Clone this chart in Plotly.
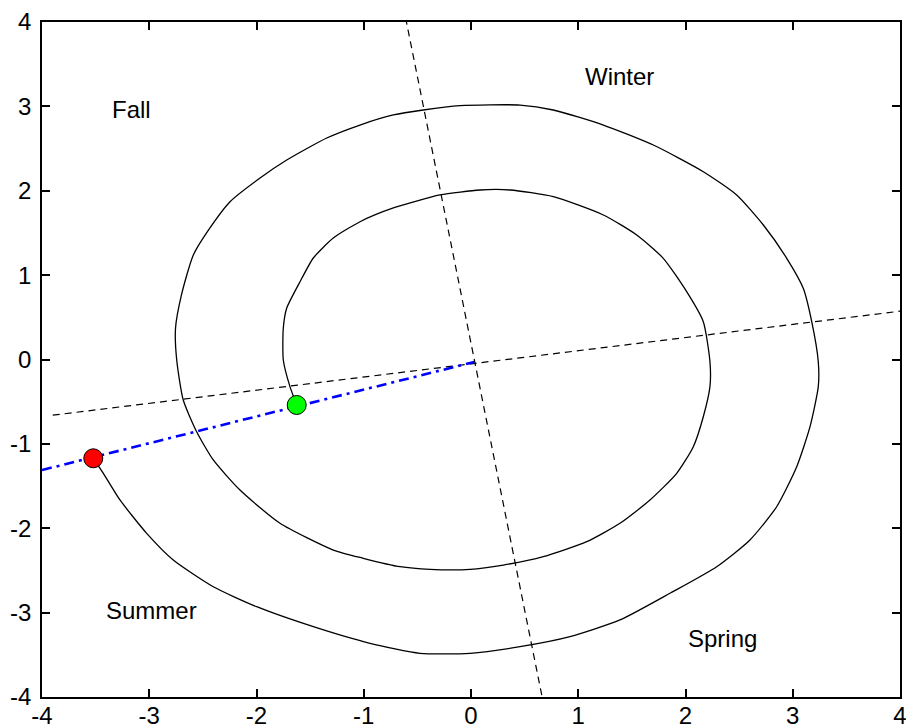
import plotly.graph_objects as go

# Spiral path, from green point to red point
spiral_x = [-1.625, -1.688, -1.750, -1.750, -1.718, -1.594, -1.470, -1.284, -1.035, -0.724,
            -0.289, 0.084, 0.364, 0.767, 1.234, 1.545, 1.793, 2.011, 2.166, 2.228,
            2.228, 2.166, 2.073, 1.918, 1.669, 1.389, 1.079, 0.674, 0.301, -0.009,
            -0.382, -0.662, -1.004, -1.284, -1.781, -2.154, -2.403, -2.558, -2.683, -2.744,
            -2.755, -2.700, -2.589, -2.434, -2.247, -1.967, -1.718, -1.345, -1.035, -0.724,
            -0.445, -0.103, 0.457, 0.767, 1.234, 1.700, 2.166, 2.477, 2.726, 2.944,
            3.098, 3.177, 3.238, 3.238, 3.161, 3.037, 2.850, 2.601, 2.291, 1.855,
            1.389, 0.923, 0.457, -0.009, -0.476, -0.942, -1.470, -1.998, -2.403, -2.776,
            -3.024, -3.273, -3.428, -3.522]
spiral_y = [-0.539, -0.322, -0.006, 0.373, 0.610, 0.922, 1.203, 1.440, 1.633, 1.796,
            1.950, 2.009, 2.009, 1.930, 1.713, 1.476, 1.199, 0.804, 0.448, -0.026,
            -0.322, -0.678, -1.033, -1.349, -1.665, -1.941, -2.159, -2.337, -2.436, -2.487,
            -2.487, -2.456, -2.356, -2.258, -1.941, -1.547, -1.191, -0.856, -0.480, -0.006,
            0.373, 0.764, 1.239, 1.559, 1.870, 2.151, 2.364, 2.625, 2.779, 2.898,
            2.957, 3.008, 3.016, 2.957, 2.779, 2.542, 2.226, 1.950, 1.594, 1.199,
            0.844, 0.448, -0.026, -0.322, -0.796, -1.271, -1.745, -2.139, -2.456, -2.771,
            -3.087, -3.285, -3.404, -3.482, -3.482, -3.364, -3.167, -2.930, -2.693, -2.376,
            -2.060, -1.665, -1.349, -1.171]

# Dashed reference lines
line_a_x = [-3.90, 4.05]
line_a_y = [-0.66, 0.58]
line_b_x = [-0.61, 0.66]
line_b_y = [4.05, -3.98]

# Blue dash-dot line
blue_x = [-4.0, 0.03]
blue_y = [-1.31, -0.03]

# Markers
green_pt = (-1.625, -0.539)
red_pt = (-3.522, -1.171)

# Season labels
season_names = ["Fall", "Winter", "Summer", "Spring"]
season_x = [-3.37, 1.04, -3.42, 2.00]
season_y = [2.96, 3.35, -2.97, -3.31]

tick_vals = [-4, -3, -2, -1, 0, 1, 2, 3, 4]
tick_text = ["-4", "-3", "-2", "-1", "0", "1", "2", "3", "4"]

fig = go.Figure()
fig.add_trace(go.Scatter(x=spiral_x, y=spiral_y, mode="lines",
                         line=dict(color="black", width=1.3, shape="spline", smoothing=0.6),
                         hoverinfo="skip"))
fig.add_trace(go.Scatter(x=line_a_x, y=line_a_y, mode="lines",
                         line=dict(color="black", width=1.2, dash="7px,5px")))
fig.add_trace(go.Scatter(x=line_b_x, y=line_b_y, mode="lines",
                         line=dict(color="black", width=1.2, dash="7px,5px")))
fig.add_trace(go.Scatter(x=blue_x, y=blue_y, mode="lines",
                         line=dict(color="#0000ff", width=2.6, dash="10px,5px,3px,5px")))
fig.add_trace(go.Scatter(x=[green_pt[0]], y=[green_pt[1]], mode="markers",
                         marker=dict(color="#00ff00", size=19, line=dict(color="black", width=1))))
fig.add_trace(go.Scatter(x=[red_pt[0]], y=[red_pt[1]], mode="markers",
                         marker=dict(color="#ff0000", size=19, line=dict(color="black", width=1))))

for name, sx, sy in zip(season_names, season_x, season_y):
    fig.add_annotation(x=sx, y=sy, text=name, showarrow=False, xanchor="left", yanchor="middle",
                       font=dict(family="Liberation Sans, Arial", size=24, color="black"))

axis_common = dict(range=[-4, 4], tickvals=tick_vals, ticktext=tick_text, ticks="inside",
                   ticklen=8, tickwidth=1.5, tickcolor="black", showline=True, linecolor="black",
                   linewidth=1.5, mirror="ticks", showgrid=False, zeroline=False, automargin=False,
                   ticklabeloverflow="allow",
                   tickfont=dict(family="Liberation Sans, Arial", size=24, color="black"))

fig.update_xaxes(**axis_common, ticklabelstandoff=-4)
fig.update_yaxes(**axis_common, ticklabelstandoff=4)

fig.update_layout(width=906, height=728, margin=dict(l=42, r=6, t=22, b=31),
                  paper_bgcolor="white", plot_bgcolor="white", showlegend=False)

fig.write_html("out.html")
